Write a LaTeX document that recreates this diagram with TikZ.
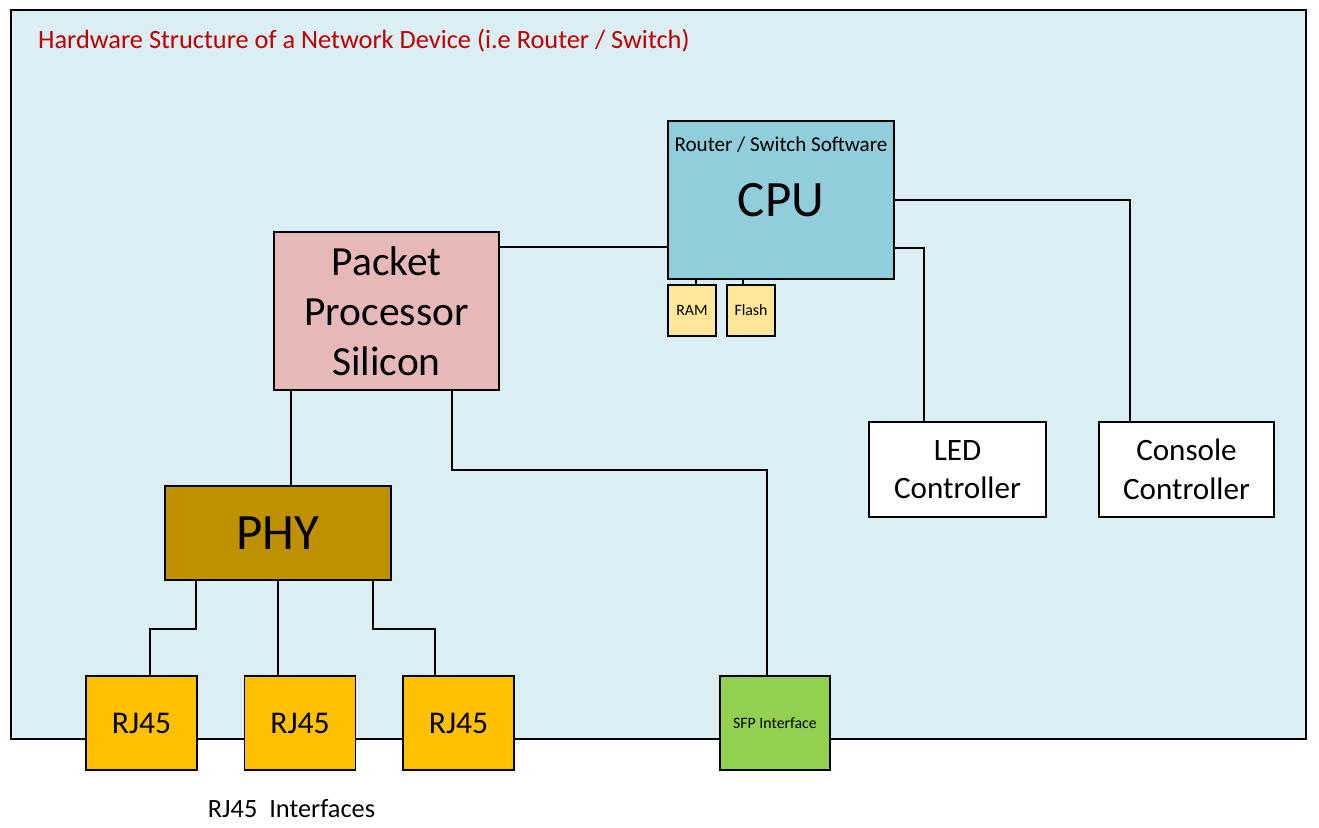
\documentclass[tikz,border=0pt]{standalone}
\usepackage{fontspec}
\setmainfont{Carlito}
\usepackage{tikz}
\usetikzlibrary{positioning,calc}
\definecolor{bgcol}{RGB}{218,238,243}
\definecolor{cpucol}{RGB}{146,205,220}
\definecolor{memcol}{RGB}{255,230,153}
\definecolor{ppcol}{RGB}{230,185,184}
\definecolor{phycol}{RGB}{191,144,0}
\definecolor{rjcol}{RGB}{255,192,0}
\definecolor{sfpcol}{RGB}{146,208,80}
\definecolor{titlecol}{RGB}{192,0,0}

\begin{document}
\begin{tikzpicture}[x=0.02cm, y=-0.02cm,
  blk/.style={rectangle, draw=black, line width=0.9pt, fill=#1, align=center, inner sep=0pt},
  wire/.style={draw=black, line width=0.9pt},
  fs/.style={font=\fontsize{#1}{#1}\selectfont}
]
\useasboundingbox (0,0) rectangle (1319,828);
\draw[fill=bgcol, line width=0.9pt] (11,10) rectangle (1306,739);

\node[anchor=west, text=titlecol, fs=15] (title) at (32,41) {Hardware Structure of a Network Device (i.e Router / Switch)};

\node[blk=cpucol, minimum width=4.52cm, minimum height=3.16cm, fs=29,
      label={[anchor=north, yshift=-0.2cm, fs=12]north:Router / Switch Software}] (cpu) at (781,200) {CPU};
\node[blk=memcol, minimum width=0.96cm, minimum height=1.02cm, fs=9] (ram)   at (692,310.5) {RAM};
\node[blk=memcol, minimum width=0.96cm, minimum height=1.02cm, fs=9] (flash) at (751,310.5) {Flash};

\node[blk=ppcol, minimum width=4.5cm, minimum height=3.16cm, font=\fontsize{23.6}{28.5}\selectfont] (pp) at (386.5,311) {Packet\\Processor\\Silicon};

\node[blk=white, minimum width=3.54cm, minimum height=1.9cm, font=\fontsize{17.7}{22}\selectfont] (led)     at (957.5,469.5)  {LED\\Controller};
\node[blk=white, minimum width=3.5cm,  minimum height=1.9cm, font=\fontsize{17.7}{22}\selectfont] (console) at (1186.5,469.5) {Console\\Controller};

\node[blk=phycol, minimum width=4.52cm, minimum height=1.88cm, fs=29] (phy) at (278,533) {PHY};

\node[blk=rjcol, minimum width=2.22cm, minimum height=1.88cm, fs=18] (rja) at (141.5,723) {RJ45};
\node[blk=rjcol, minimum width=2.22cm, minimum height=1.88cm, fs=18] (rjb) at (300,723)   {RJ45};
\node[blk=rjcol, minimum width=2.22cm, minimum height=1.88cm, fs=18] (rjc) at (458.5,723) {RJ45};
\node[blk=sfpcol, minimum width=2.2cm, minimum height=1.88cm, fs=9]  (sfp) at (775,723)   {SFP Interface};

\node[fs=15] (rjlbl) at (291.5,809) {RJ45\ \ Interfaces};

% cpu side
\draw[wire] ([yshift=-0.32cm]pp.north east) -- ([yshift=-0.32cm]pp.north east -| cpu.west);
\draw[wire] (cpu.east) -| ([xshift=0.64cm]console.north west);
\draw[wire] ([yshift=0.64cm]cpu.south east) -| ([xshift=1.12cm]led.north west);
\draw[wire] ([xshift=0.08cm]ram.north) -- ([xshift=0.08cm]ram.north |- cpu.south);
\draw[wire] ([xshift=-0.16cm]flash.north) -- ([xshift=-0.16cm]flash.north |- cpu.south);

% packet processor down
\draw[wire] ([xshift=0.36cm]pp.south west) -- ([xshift=0.36cm]pp.south west |- phy.north);
\draw[wire] ([xshift=-0.96cm]pp.south east) -- ++(0,-1.58cm) -| ([xshift=-0.16cm]sfp.north);

% phy to ports
\draw[wire] ([xshift=0.64cm]phy.south west) -- ++(0,-0.96cm) -| ([xshift=0.17cm]rja.north);
\draw[wire] (phy.south) -- (phy.south |- rjb.north);
\draw[wire] ([xshift=-0.38cm]phy.south east) -- ++(0,-0.96cm) -| ([xshift=-0.47cm]rjc.north);

\end{tikzpicture}
\end{document}
